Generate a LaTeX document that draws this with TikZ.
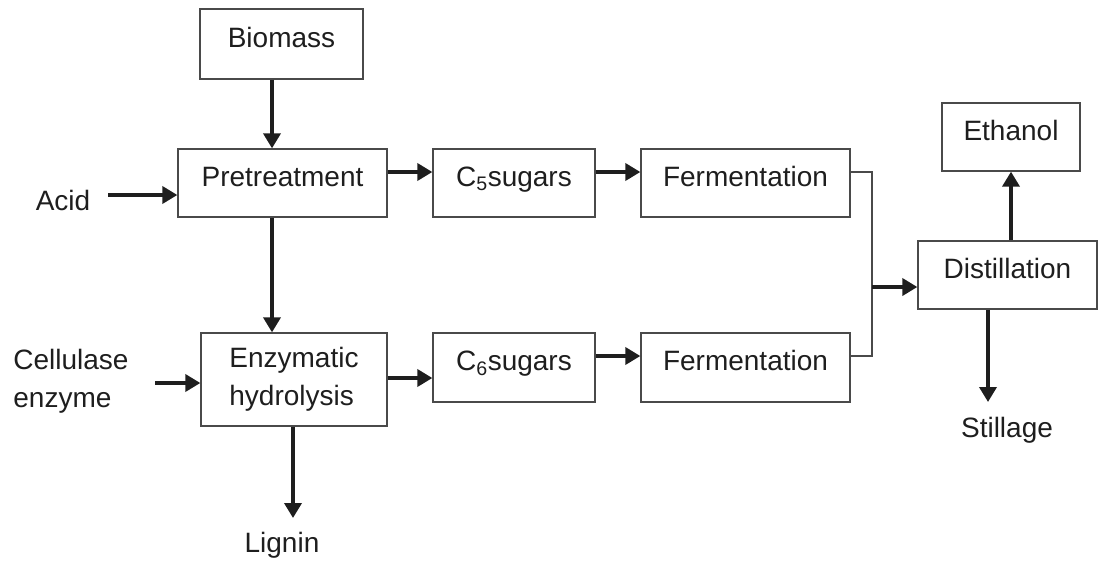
\documentclass[tikz,border=0pt]{standalone}
\usepackage{fontspec}
\setmainfont{Liberation Sans}
\usepackage{xcolor}
\usetikzlibrary{arrows.meta,positioning,calc}
\definecolor{ink}{HTML}{1E1E1E}
\definecolor{edge}{HTML}{4A4A4A}

\begin{document}
\begin{tikzpicture}[x=1pt, y=-1pt,
  font=\fontsize{28}{38}\selectfont, text=ink,
  box/.style={draw=edge, line width=1.3pt, inner sep=0pt, minimum height=68pt, text height=20pt, text depth=14pt},
  box2/.style={draw=edge, line width=1.3pt, inner sep=0pt, align=left},
  lbl/.style={inner sep=0pt, align=left},
  arr/.style={-{Triangle[length=15pt, width=17pt]}, line width=3.6pt, draw=ink},
  merge/.style={line width=1.3pt, draw=edge}]
\useasboundingbox (0,0) rectangle (1101,563);
\node[box, minimum width=163pt, minimum height=70pt] (bio) at (281.5,44) {Biomass};
\node[box, minimum width=209pt] (pre) at (282.5,183) {Pretreatment};
\node[box, minimum width=162pt] (c5) at (514,183) {C\textsubscript{5}sugars};
\node[box, minimum width=209pt] (fer1) at (745.5,183) {Fermentation};
\node[box, minimum width=138pt] (eth) at (1011,137) {Ethanol};
\node[box, minimum width=179pt] (dist) at (1007.5,275) {Distillation};
\node[box2, minimum width=186pt, minimum height=93pt] (enz) at (294,379.5) {Enzymatic\\hydrolysis};
\node[box, minimum width=162pt, minimum height=69pt] (c6) at (514,367.5) {C\textsubscript{6}sugars};
\node[box, minimum width=209pt, minimum height=69pt] (fer2) at (745.5,367.5) {Fermentation};
\node[lbl] (acid) at (63,200) {Acid};
\node[lbl] (cell) at (71,381) {Cellulase\\enzyme};
\node[lbl] (lig) at (282,545) {Lignin};
\node[lbl] (still) at (1007,430) {Stillage};
\coordinate (jn) at (872,287);
\draw[arr] ([xshift=-9.5pt]bio.south) -- ([xshift=-9.5pt]bio.south |- pre.north);
\draw[arr] ([yshift=5pt]acid.east) ++(18,0) -- ([yshift=5pt]acid.east -| pre.west);
\draw[arr] ([yshift=11pt]pre.east) -- ([yshift=11pt]c5.west);
\draw[arr] ([yshift=11pt]c5.east) -- ([yshift=11pt]fer1.west);
\draw[arr] ([xshift=-10.5pt]pre.south) -- ([xshift=-10.5pt]pre.south |- enz.north);
\draw[arr] ([xshift=84pt,yshift=-2pt]cell.center) -- ([yshift=-2pt]cell.center -| enz.west);
\draw[arr] ([yshift=1.5pt]enz.east) -- ([yshift=1.5pt]enz.east -| c6.west);
\draw[arr] ([yshift=11.5pt]c6.east) -- ([yshift=11.5pt]fer2.west);
\draw[arr] ([xshift=-1pt]enz.south) -- ([xshift=-1pt]enz.south |- 0,518);
\draw[merge] ([yshift=11pt]fer1.east) -| (jn) |- ([yshift=11.5pt]fer2.east);
\draw[arr] (jn) -- (jn -| dist.west);
\draw[arr] ([xshift=3.5pt]dist.north) -- (eth.south);
\draw[arr] ([xshift=-19.5pt]dist.south) -- ([xshift=-19.5pt]dist.south |- 0,402);
\end{tikzpicture}
\end{document}
